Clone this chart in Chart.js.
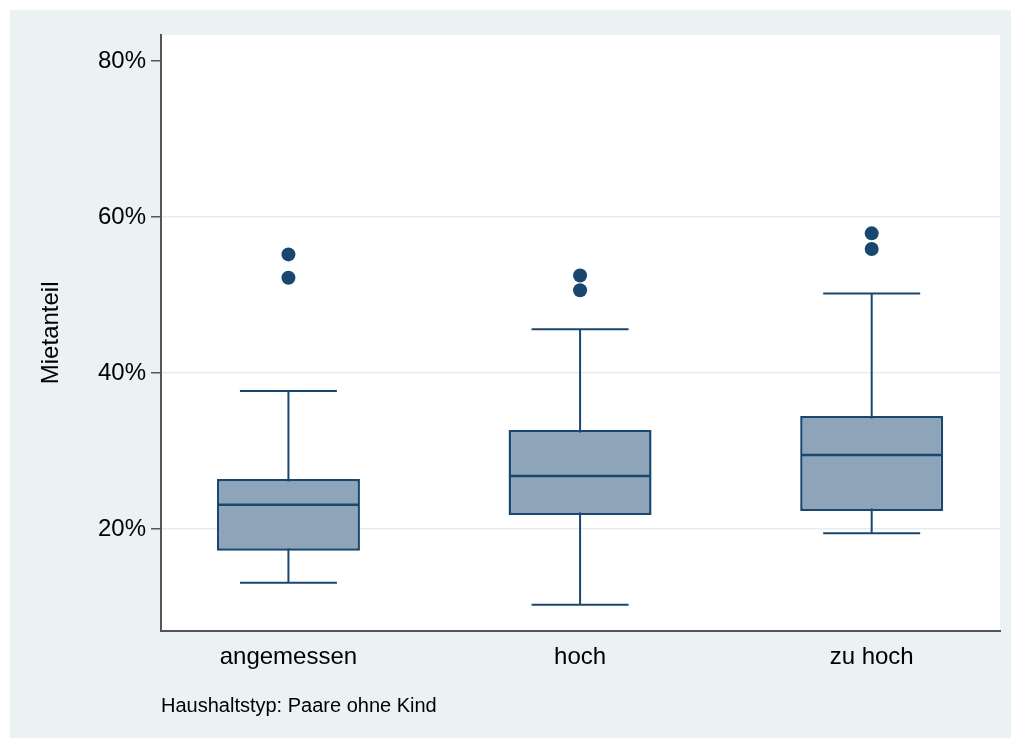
<!DOCTYPE html>
<html>
<head>
<meta charset="utf-8">
<script src="https://cdn.jsdelivr.net/npm/chart.js@4"></script>
<style>
  body { margin: 0; background: #ffffff; }
  #wrap { position: absolute; left: 10px; top: 10px; }
</style>
</head>
<body>
<div id="wrap"><canvas id="boxChart" width="1001" height="728"></canvas></div>
<script>
const categories = ['angemessen', 'hoch', 'zu hoch'];
const whiskerLow = [13.1, 10.3, 19.45];
const q1 = [17.2, 21.8, 22.3];
const median = [23.1, 26.8, 29.5];
const q3 = [26.4, 32.7, 34.5];
const whiskerHigh = [37.7, 45.6, 50.2];
const outliers = [[52.2, 55.2], [50.6, 52.5], [55.9, 57.9]];
const yTicks = [20, 40, 60, 80];

const navy = '#1a476f';
const boxFill = '#8ea4b8';
const fontFamily = 'Arial, "Liberation Sans", sans-serif';

const xPos = categories.map((c, i) => i + 1);

const backgroundPlugin = {
    id: 'stataBackground',
    beforeDraw(chart) {
        const ctx = chart.ctx;
        const a = chart.chartArea;
        ctx.save();
        ctx.fillStyle = '#eaf2f3';
        ctx.fillRect(0, 0, chart.width, chart.height);
        ctx.fillStyle = '#ffffff';
        ctx.fillRect(a.left, a.top, a.right - a.left, a.bottom - a.top);
        ctx.restore();
    }
};

const outlierPoints = [];
outliers.forEach((list, i) => list.forEach(v => outlierPoints.push({ x: xPos[i], y: v })));

const capPoints = [];
xPos.forEach((x, i) => {
    capPoints.push({ x: x, y: whiskerLow[i] });
    capPoints.push({ x: x, y: whiskerHigh[i] });
});

const ctx = document.getElementById('boxChart').getContext('2d');

new Chart(ctx, {
    type: 'bar',
    data: {
        datasets: [{
            label: 'whisker',
            order: 5,
            data: xPos.map((x, i) => ({ x: x, y: [whiskerLow[i], whiskerHigh[i]] })),
            backgroundColor: navy,
            borderWidth: 0,
            grouped: false,
            maxBarThickness: 2
        }, {
            label: 'box',
            order: 4,
            data: xPos.map((x, i) => ({ x: x, y: [q1[i], q3[i]] })),
            backgroundColor: boxFill,
            borderColor: navy,
            borderWidth: 2.5,
            borderSkipped: false,
            grouped: false,
            maxBarThickness: 143
        }, {
            type: 'scatter',
            label: 'caps',
            order: 3,
            data: capPoints,
            pointStyle: 'line',
            pointRadius: 48.5,
            borderColor: navy,
            borderWidth: 2
        }, {
            type: 'scatter',
            label: 'median',
            order: 2,
            data: xPos.map((x, i) => ({ x: x, y: median[i] })),
            pointStyle: 'line',
            pointRadius: 70,
            borderColor: navy,
            borderWidth: 2.5
        }, {
            type: 'scatter',
            label: 'outliers',
            order: 1,
            data: outlierPoints,
            pointStyle: 'circle',
            pointRadius: 7,
            backgroundColor: navy,
            borderWidth: 0
        }]
    },
    options: {
        responsive: false,
        animation: false,
        events: [],
        layout: {
            autoPadding: false,
            padding: { top: 25, right: 11, left: 0, bottom: 0 }
        },
        plugins: {
            legend: { display: false },
            tooltip: { enabled: false }
        },
        scales: {
            x: {
                type: 'linear',
                min: 0.563,
                max: 3.44,
                offset: false,
                afterBuildTicks: scale => {
                    scale.ticks = xPos.map(v => ({ value: v }));
                },
                afterFit: scale => {
                    scale.height = 107.3;
                },
                grid: { display: false },
                border: { display: true, color: '#555555', width: 2 },
                ticks: {
                    padding: 4,
                    color: '#000000',
                    maxRotation: 0,
                    autoSkip: false,
                    font: { family: fontFamily, size: 24 },
                    callback: value => categories[value - 1]
                },
                title: {
                    display: true,
                    text: 'Haushaltstyp: Paare ohne Kind',
                    align: 'start',
                    color: '#000000',
                    font: { family: fontFamily, size: 20 },
                    padding: { top: 0, bottom: 20 }
                }
            },
            y: {
                min: 6.96,
                max: 83.33,
                afterBuildTicks: scale => {
                    scale.ticks = yTicks.map(v => ({ value: v }));
                },
                afterFit: scale => {
                    scale.width = 151;
                },
                grid: {
                    color: c => (c.tick && c.tick.value === 80) ? 'rgba(0,0,0,0)' : '#e4edf0',
                    lineWidth: 1.5,
                    tickColor: '#555555',
                    tickWidth: 1.5,
                    tickLength: 10
                },
                border: { display: true, color: '#555555', width: 2 },
                ticks: {
                    padding: 5,
                    color: '#000000',
                    font: { family: fontFamily, size: 24 },
                    callback: value => value + '%'
                },
                title: {
                    display: true,
                    text: 'Mietanteil',
                    color: '#000000',
                    font: { family: fontFamily, size: 24 },
                    padding: { top: 27, bottom: 0 }
                }
            }
        }
    },
    plugins: [backgroundPlugin]
});
</script>
</body>
</html>
